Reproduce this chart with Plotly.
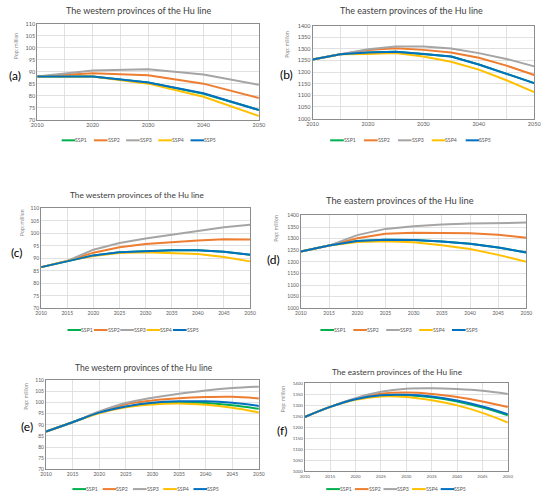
import plotly.graph_objects as go

W, H = 550, 499

names = ["SSP1", "SSP2", "SSP3", "SSP4", "SSP5"]
colors = ["#00B050", "#ED7D31", "#A5A5A5", "#FFC000", "#0070C0"]

# Panel (a): west, decade steps
years_a = [2010, 2020, 2030, 2040, 2050]
a_ssp1 = [88.0, 88.0, 85.5, 80.8, 74.0]
a_ssp2 = [88.0, 89.3, 88.5, 85.0, 79.0]
a_ssp3 = [88.0, 90.5, 91.0, 88.8, 84.5]
a_ssp4 = [88.0, 88.0, 85.0, 79.5, 71.5]
a_ssp5 = [88.0, 88.0, 85.5, 81.0, 74.0]

years5 = [2010, 2015, 2020, 2025, 2030, 2035, 2040, 2045, 2050]

# Panel (b): east
b_ssp1 = [1255, 1277, 1285, 1288, 1278, 1267, 1233, 1193, 1153]
b_ssp2 = [1255, 1277, 1295, 1303, 1296, 1285, 1262, 1228, 1188]
b_ssp3 = [1255, 1277, 1299, 1310, 1310, 1302, 1282, 1257, 1225]
b_ssp4 = [1255, 1277, 1278, 1282, 1267, 1245, 1211, 1165, 1114]
b_ssp5 = [1255, 1277, 1285, 1288, 1278, 1267, 1233, 1193, 1153]

# Panel (c): west
c_ssp1 = [86.5, 89.0, 91.2, 92.5, 93.0, 93.3, 93.3, 92.7, 91.5]
c_ssp2 = [86.5, 89.0, 92.3, 94.5, 95.8, 96.6, 97.2, 97.7, 97.6]
c_ssp3 = [86.5, 89.0, 93.5, 96.2, 98.0, 99.6, 101.0, 102.5, 103.5]
c_ssp4 = [86.5, 89.0, 91.0, 92.2, 92.5, 92.3, 91.8, 90.6, 88.8]
c_ssp5 = [86.5, 89.0, 91.2, 92.5, 93.0, 93.3, 93.3, 92.7, 91.5]

# Panel (d): east
d_ssp1 = [1245, 1270, 1290, 1295, 1294, 1288, 1278, 1262, 1240]
d_ssp2 = [1245, 1270, 1302, 1321, 1325, 1325, 1323, 1317, 1304]
d_ssp3 = [1245, 1270, 1315, 1342, 1353, 1361, 1365, 1368, 1369]
d_ssp4 = [1245, 1270, 1285, 1289, 1284, 1272, 1255, 1230, 1200]
d_ssp5 = [1245, 1270, 1290, 1295, 1294, 1288, 1278, 1262, 1240]

# Panel (e): west
e_ssp1 = [87.0, 91.2, 95.5, 98.2, 99.7, 100.2, 99.8, 98.8, 97.2]
e_ssp2 = [87.0, 91.2, 95.8, 99.3, 101.0, 102.0, 102.5, 102.6, 101.9]
e_ssp3 = [87.0, 91.2, 96.0, 99.8, 102.2, 104.0, 105.5, 106.6, 107.2]
e_ssp4 = [87.0, 91.2, 95.2, 97.9, 99.2, 99.6, 99.0, 97.7, 95.6]
e_ssp5 = [87.0, 91.2, 95.5, 98.3, 100.0, 100.6, 100.6, 99.9, 98.5]

# Panel (f): east
f_ssp1 = [1247, 1293, 1328, 1345, 1346, 1337, 1318, 1290, 1255]
f_ssp2 = [1247, 1293, 1330, 1353, 1358, 1352, 1338, 1318, 1292]
f_ssp3 = [1247, 1293, 1333, 1362, 1376, 1378, 1374, 1366, 1352]
f_ssp4 = [1247, 1293, 1325, 1340, 1338, 1323, 1300, 1266, 1222]
f_ssp5 = [1247, 1293, 1328, 1346, 1348, 1340, 1322, 1295, 1260]

west_title = "The western provinces of the Hu line"
east_title = "The eastern provinces of the Hu line"
y_title = "Pop: million"
west_ticks = [70, 75, 80, 85, 90, 95, 100, 105, 110]
east_ticks = [1000, 1050, 1100, 1150, 1200, 1250, 1300, 1350, 1400]

FONT = "Lato"
TXT = "#595959"

panels = [
    dict(lab="(a)", title=west_title, x=years_a, ys=[a_ssp1, a_ssp2, a_ssp3, a_ssp4, a_ssp5],
         box=(32, 259, 21, 118), yr=[70, 110], yt=west_ticks, xd=10, shape="linear", tf=5.5, ttl=9,
         tpos=(136, 8), lpos=(9.5, 73), ytpos=(11, 43), leg=(57, 33, 139)),
    dict(lab="(b)", title=east_title, x=years5, ys=[b_ssp1, b_ssp2, b_ssp3, b_ssp4, b_ssp5],
         box=(314, 541, 23, 117), yr=[1000, 1400], yt=east_ticks, xd=10, shape="linear", tf=5.5, ttl=9,
         tpos=(415, 8), lpos=(287, 72), ytpos=(288, 42), leg=(332, 34.7, 139)),
    dict(lab="(c)", title=west_title, x=years5, ys=[c_ssp1, c_ssp2, c_ssp3, c_ssp4, c_ssp5],
         box=(36, 250, 208, 309), yr=[70, 110], yt=west_ticks, xd=5, shape="linear", tf=5, ttl=8.3,
         tpos=(134, 194), lpos=(11, 253), ytpos=(17, 222), leg=(63, 27, 331)),
    dict(lab="(d)", title=east_title, x=years5, ys=[d_ssp1, d_ssp2, d_ssp3, d_ssp4, d_ssp5],
         box=(302, 533, 215, 309), yr=[1000, 1400], yt=east_ticks, xd=5, shape="linear", tf=5, ttl=9.3,
         tpos=(404, 200), lpos=(274, 260), ytpos=(277, 228), leg=(322, 33.7, 331)),
    dict(lab="(e)", title=west_title, x=years5, ys=[e_ssp1, e_ssp2, e_ssp3, e_ssp4, e_ssp5],
         box=(41, 259, 382, 472), yr=[70, 110], yt=west_ticks, xd=5, shape="spline", tf=5, ttl=8.5,
         tpos=(141, 369), lpos=(21, 429), ytpos=(21, 398), leg=(68, 31, 492)),
    dict(lab="(f)", title=east_title, x=years5, ys=[f_ssp1, f_ssp2, f_ssp3, f_ssp4, f_ssp5],
         box=(306, 514, 385, 474), yr=[1000, 1400], yt=east_ticks, xd=5, shape="spline", tf=4.4, ttl=8.2,
         tpos=(400, 373), lpos=(283, 433), ytpos=(284, 401), leg=(328, 29.3, 492)),
]

fig = go.Figure()
layout = dict(width=W, height=H, autosize=False, margin=dict(l=0, r=0, t=0, b=0),
              paper_bgcolor="white", plot_bgcolor="white", showlegend=False,
              hovermode=False,
              font=dict(family=FONT, color=TXT, size=6))
annotations = []
shapes = []

for i, p in enumerate(panels):
    k = "" if i == 0 else str(i + 1)
    x0, x1, y0, y1 = p["box"]
    xdom = [x0 / W, x1 / W]
    ydom = [1 - y1 / H, 1 - y0 / H]
    for n, c, y in zip(names, colors, p["ys"]):
        fig.add_trace(go.Scatter(x=p["x"], y=y, name=n, mode="lines",
                                 line=dict(color=c, width=2, shape=p["shape"]),
                                 xaxis="x" + k, yaxis="y" + k))
    tfont = dict(size=p["tf"], color=TXT, family=FONT)
    layout["xaxis" + k] = dict(domain=xdom, anchor="y" + k, range=[2010, 2050],
                               tickmode="linear", tick0=2010, dtick=p["xd"],
                               showgrid=True, gridcolor="#D9D9D9", gridwidth=0.8,
                               minor=dict(dtick=5, tick0=2010, showgrid=True, gridcolor="#D9D9D9", gridwidth=0.8),
                               showline=True, mirror=True, linecolor="#8C8C8C", linewidth=1,
                               ticks="", zeroline=False, tickfont=tfont, ticklabeloverflow="allow")
    layout["yaxis" + k] = dict(domain=ydom, anchor="x" + k, range=p["yr"],
                               tickmode="array", tickvals=p["yt"],
                               showgrid=True, gridcolor="#D9D9D9", gridwidth=0.8,
                               showline=True, mirror=True, linecolor="#8C8C8C", linewidth=1,
                               ticks="", zeroline=False, tickfont=tfont)
    tx, ty = p["tpos"]
    annotations.append(dict(text=p["title"], x=tx / W, y=1 - ty / H, xref="paper", yref="paper",
                            showarrow=False, xanchor="center", yanchor="middle", borderpad=0,
                            font=dict(size=p["ttl"], color="#404040", family=FONT)))
    lx, ly = p["lpos"]
    annotations.append(dict(text=p["lab"], x=lx / W, y=1 - ly / H, xref="paper", yref="paper",
                            showarrow=False, xanchor="center", yanchor="middle", borderpad=0,
                            font=dict(size=12, color="black", family=FONT)))
    ax, ay = p["ytpos"]
    annotations.append(dict(text=y_title, x=ax / W, y=1 - ay / H, xref="paper", yref="paper",
                            showarrow=False, textangle=-90, xanchor="center", yanchor="middle", borderpad=0,
                            font=dict(size=5.2, color="#7F7F7F", family=FONT)))
    gx, gs, gy = p["leg"]
    for j, (n, c) in enumerate(zip(names, colors)):
        sx = gx + gs * j
        shapes.append(dict(type="line", xref="paper", yref="paper",
                           x0=sx / W, x1=(sx + 14) / W, y0=1 - gy / H, y1=1 - gy / H,
                           line=dict(color=c, width=2)))
        annotations.append(dict(text=n, x=(sx + 14) / W, y=1 - gy / H, xref="paper", yref="paper",
                                showarrow=False, xanchor="left", yanchor="middle", xshift=-1, borderpad=0,
                                font=dict(size=5.2, color=TXT, family=FONT)))

layout["annotations"] = annotations
layout["shapes"] = shapes
fig.update_layout(**layout)
fig.write_html("out.html", config={"displayModeBar": False, "staticPlot": True},
               post_script="document.body.style.margin='0px';")
